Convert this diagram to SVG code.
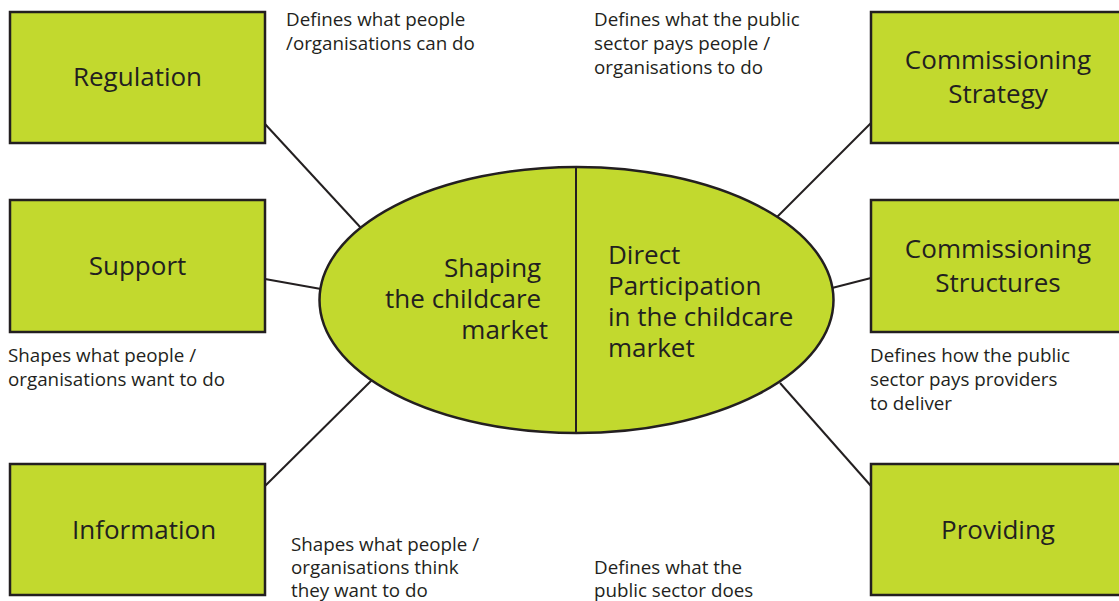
<svg xmlns="http://www.w3.org/2000/svg" width="1119" height="601" viewBox="0 0 1119 601">
  <style>
    .box { fill: #c2d92e; stroke: #231f20; stroke-width: 2.5; }
    .ell { fill: #c2d92e; stroke: #231f20; stroke-width: 2.5; }
    .conn { stroke: #231f20; stroke-width: 2; fill: none; }
    .lbl { font-family: "Open Sans", "Noto Sans", sans-serif; font-size: 26px; fill: #231f20; }
    .note { font-family: "Open Sans", "Noto Sans", sans-serif; font-size: 18.8px; fill: #231f20; }
  </style>
  <rect width="1119" height="601" fill="#ffffff"/>
  <g id="connectors">
    <line class="conn" x1="265" y1="124" x2="361" y2="228"/>
    <line class="conn" x1="265" y1="279" x2="321" y2="289"/>
    <line class="conn" x1="265" y1="486" x2="372" y2="380"/>
    <line class="conn" x1="871" y1="123" x2="777" y2="217"/>
    <line class="conn" x1="871" y1="278" x2="832" y2="288"/>
    <line class="conn" x1="871" y1="486" x2="780" y2="383"/>
  </g>
  <g id="regulation">
    <rect class="box" x="10" y="12" width="255" height="131"/>
    <text class="lbl" x="137.5" y="86" text-anchor="middle">Regulation</text>
  </g>
  <g id="support">
    <rect class="box" x="10" y="200" width="255" height="132"/>
    <text class="lbl" x="137.5" y="275" text-anchor="middle">Support</text>
  </g>
  <g id="information">
    <rect class="box" x="10" y="464" width="255" height="131"/>
    <text class="lbl" x="144" y="539" text-anchor="middle">Information</text>
  </g>
  <g id="commissioning-strategy">
    <rect class="box" x="871" y="12" width="260" height="131"/>
    <text class="lbl" x="998" y="69" text-anchor="middle">Commissioning</text>
    <text class="lbl" x="998" y="103" text-anchor="middle">Strategy</text>
  </g>
  <g id="commissioning-structures">
    <rect class="box" x="871" y="200" width="260" height="132"/>
    <text class="lbl" x="998" y="258" text-anchor="middle">Commissioning</text>
    <text class="lbl" x="998" y="292" text-anchor="middle">Structures</text>
  </g>
  <g id="providing">
    <rect class="box" x="871" y="464" width="260" height="131"/>
    <text class="lbl" x="998" y="539" text-anchor="middle">Providing</text>
  </g>
  <g id="centre">
    <ellipse class="ell" cx="576.5" cy="300" rx="257" ry="133"/>
    <line class="conn" x1="576" y1="167" x2="576" y2="433"/>
    <text class="lbl" text-anchor="end">
      <tspan x="548" y="277">Shaping</tspan>
      <tspan x="548" y="308">the childcare</tspan>
      <tspan x="548" y="339">market</tspan>
    </text>
    <text class="lbl">
      <tspan x="608" y="264">Direct</tspan>
      <tspan x="608" y="295">Participation</tspan>
      <tspan x="608" y="326">in the childcare</tspan>
      <tspan x="608" y="357">market</tspan>
    </text>
  </g>
  <g id="notes">
    <text class="note">
      <tspan x="286" y="26">Defines what people</tspan>
      <tspan x="286" y="50">/organisations can do</tspan>
    </text>
    <text class="note">
      <tspan x="594" y="26">Defines what the public</tspan>
      <tspan x="594" y="50">sector pays people /</tspan>
      <tspan x="594" y="74">organisations to do</tspan>
    </text>
    <text class="note">
      <tspan x="8" y="362">Shapes what people /</tspan>
      <tspan x="8" y="386">organisations want to do</tspan>
    </text>
    <text class="note">
      <tspan x="870" y="362">Defines how the public</tspan>
      <tspan x="870" y="386">sector pays providers</tspan>
      <tspan x="870" y="410">to deliver</tspan>
    </text>
    <text class="note">
      <tspan x="291" y="551">Shapes what people /</tspan>
      <tspan x="291" y="574">organisations think</tspan>
      <tspan x="291" y="597">they want to do</tspan>
    </text>
    <text class="note">
      <tspan x="594" y="574">Defines what the</tspan>
      <tspan x="594" y="597">public sector does</tspan>
    </text>
  </g>
</svg>
